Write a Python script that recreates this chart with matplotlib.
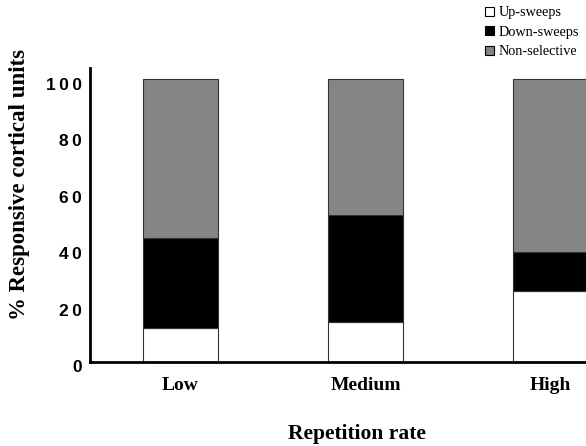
import matplotlib
matplotlib.use("Agg")
import matplotlib.pyplot as plt
import matplotlib.transforms as mtransforms
import numpy as np
from matplotlib.patches import Patch

categories = ["Low", "Medium", "High"]
up_sweeps = [12, 14, 25]
down_sweeps = [32, 38, 14]
non_selective = [56, 48, 61]
series_names = ["Up-sweeps", "Down-sweeps", "Non-selective"]
yticks = [0, 20, 40, 60, 80, 100]

W, H = 586, 446
fig = plt.figure(figsize=(W / 100, H / 100), dpi=100)
ax = fig.add_axes([90 / W, (H - 362) / H, (W - 90) / W, (362 - 68) / H])

x = np.arange(len(categories))
bw = 0.405
up = np.array(up_sweeps)
down = np.array(down_sweeps)
non = np.array(non_selective)
ax.bar(x, up, bw, color="white", edgecolor="#333333", linewidth=0.8)
ax.bar(x, down, bw, bottom=up, color="black", edgecolor="#333333", linewidth=0.8)
ax.bar(x, non, bw, bottom=up + down, color="#858585", edgecolor="#333333", linewidth=0.8)

ax.set_xlim(-0.486, 2.19)
ax.set_ylim(0, 104)
for s in ["top", "right"]:
    ax.spines[s].set_visible(False)
ax.spines["left"].set_linewidth(2)
ax.spines["bottom"].set_linewidth(2)
ax.tick_params(length=0)
ax.set_yticks(yticks)
ax.set_yticklabels(["\u2009".join(str(t)) for t in yticks], fontfamily="Liberation Sans",
                   fontweight="bold", fontsize=12.5)
ax.tick_params(axis="y", pad=6)
offset = mtransforms.ScaledTranslation(0, -4.5 / 100, fig.dpi_scale_trans)
for lab in ax.get_yticklabels():
    lab.set_transform(lab.get_transform() + offset)
ax.set_xticks(x)
ax.set_xticklabels(categories, fontfamily="Liberation Serif", fontweight="bold", fontsize=14)
ax.tick_params(axis="x", pad=11)

fig.text(20 / W, 1 - 184 / H, "% Responsive cortical units", rotation=90,
         ha="center", va="center", fontfamily="Liberation Serif", fontweight="bold", fontsize=16.5)
fig.text(357 / W, 1 - 434 / H, "Repetition rate", ha="center", va="center",
         fontfamily="Liberation Serif", fontweight="bold", fontsize=15.5)

handles = [Patch(facecolor="white", edgecolor="black", linewidth=0.8),
           Patch(facecolor="black", edgecolor="black", linewidth=0.8),
           Patch(facecolor="#858585", edgecolor="black", linewidth=0.8)]
leg = fig.legend(handles, series_names, loc="upper left", bbox_to_anchor=(481 / W, 1 - 2 / H),
                 frameon=False, prop={"family": "Liberation Serif", "size": 10.3},
                 handlelength=0.6, handleheight=0.6, handletextpad=0.35, labelspacing=0.45,
                 borderpad=0.3, borderaxespad=0)

fig.savefig("out.png", dpi=100)
